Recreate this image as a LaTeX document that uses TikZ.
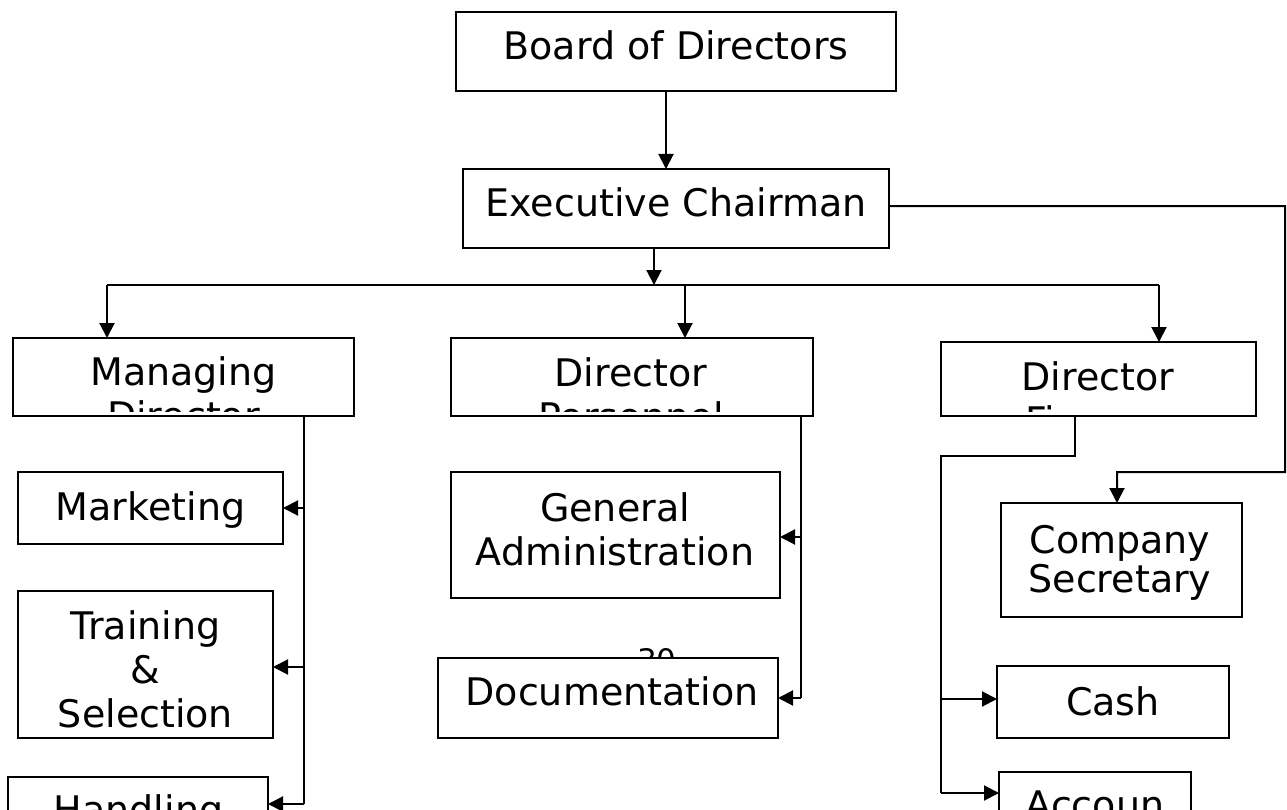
\documentclass[tikz,border=0pt]{standalone}
\usepackage{fontspec}
\setmainfont{DejaVu Sans}
\usetikzlibrary{arrows.meta}

% One organisational unit: a white box with its caption clipped inside the box.
% #1 name, #2 centre, #3 width, #4 height, #5 top-centre of caption, #6 caption
\newcommand\orgunit[6]{%
  \node[unit, minimum width=#3, minimum height=#4] (#1) at (#2) {};
  \begin{scope}
    \clip ([yshift=5bp]#1.south west) rectangle (#1.north east);
    \node[unittext] (#1-text) at (#5) {#6};
  \end{scope}
  \draw[unitborder] (#1.south west) rectangle (#1.north east);
}

\tikzset{
  unit/.style={draw, fill=white, line width=1.8bp, inner sep=0pt, outer sep=0pt},
  unitborder/.style={line width=1.8bp},
  unittext/.style={anchor=north, inner sep=0pt, align=center,
    font=\fontsize{38bp}{44bp}\selectfont},
  link/.style={line width=2bp},
  arr/.style={link, -{Triangle[length=15bp, width=15bp]}},
  pagenum/.style={anchor=north, inner sep=0pt, font=\fontsize{31bp}{36bp}\selectfont}
}

\begin{document}
\begin{tikzpicture}[x=1bp, y=-1bp]
  \fill[white] (0,0) rectangle (1287,810);
  \useasboundingbox (0,0) rectangle (1287,810);

  % top of the hierarchy
  \orgunit{board}{676,51.5}{440bp}{79bp}{676,30}{Board of Directors}
  \orgunit{exec}{676,208.5}{426bp}{79bp}{676,187}{Executive Chairman}

  % directors
  \orgunit{md}{183.5,377}{341bp}{78bp}{183.5,356}{Managing\\Director}
  \orgunit{dp}{632,377}{362bp}{78bp}{631,357}{Director\\Personnel}
  \orgunit{df}{1098.5,379}{315bp}{74bp}{1098,361}{Director\\Finance}

  % departments under the managing director
  \orgunit{mkt}{150.5,508}{265bp}{72bp}{150.5,491}{Marketing}
  \orgunit{trn}{145.5,664.5}{255bp}{147bp}{145.5,610}{Training\\\&\\Selection}
  \orgunit{hnd}{138,804}{260bp}{54bp}{138.5,794}{Handling}

  % departments under the personnel director
  \orgunit{gen}{615.5,535}{329bp}{126bp}{615,492}{General\\Administration}
  \node[pagenum] (pg) at (657,648) {30};
  \orgunit{doc}{608,698}{340bp}{80bp}{612,676}{Documentation}

  % finance side and the secretary
  \begin{scope}[unittext/.append style={font=\fontsize{38bp}{39bp}\selectfont}]
    \orgunit{sec}{1121.5,560}{241bp}{114bp}{1120,525}{Company\\Secretary}
  \end{scope}
  \orgunit{cash}{1113,702}{232bp}{72bp}{1113,686}{Cash}
  \orgunit{acc}{1095,793}{192bp}{42bp}{1095,791}{Accoun}

  % bus below the executive chairman
  \coordinate (bus)  at (654,285);
  \coordinate (busL) at (107,285);
  \coordinate (busM) at (685,285);
  \coordinate (busR) at (1159,285);
  \coordinate (bx)   at (666,0);

  \draw[arr] (board.south -| bx) -- (exec.north -| bx);
  \draw[arr] (exec.south -| bus) -- (bus);
  \draw[link] (busL) -- (busR);
  \draw[arr] (busL) -- (md.north -| busL);
  \draw[arr] (busM) -- (dp.north -| busM);
  \draw[arr] (busR) -- (df.north -| busR);

  % executive chairman to company secretary
  \coordinate (sc1) at (1285,206);
  \coordinate (sc2) at (1117,472);
  \draw[arr] ([yshift=2.5bp]exec.east) -- (sc1) |- (sc2) -- (sec.north -| sc2);

  % managing director trunk
  \coordinate (mdx) at (304,0);
  \draw[link] (md.south -| mdx) -- (mdx |- hnd.east);
  \draw[arr] (mdx |- mkt.east) -- (mkt.east);
  \draw[arr] (mdx |- 0,667) -- (trn.east |- 0,667);
  \draw[arr] (mdx |- hnd.east) -- (hnd.east);

  % personnel director trunk
  \coordinate (dpx) at (801,0);
  \draw[link] (dp.south -| dpx) -- (dpx |- doc.east);
  \draw[arr] (dpx |- 0,537) -- (gen.east |- 0,537);
  \draw[arr] (dpx |- doc.east) -- (doc.east);

  % finance director trunk
  \coordinate (dfx) at (1075,0);
  \coordinate (dfl) at (941,456);
  \draw[link] (df.south -| dfx) -- (dfx |- dfl) -- (dfl) -- (dfl |- acc.west);
  \draw[arr] (dfl |- 0,699) -- (cash.west |- 0,699);
  \draw[arr] (dfl |- acc.west) -- (acc.west);
\end{tikzpicture}
\end{document}
